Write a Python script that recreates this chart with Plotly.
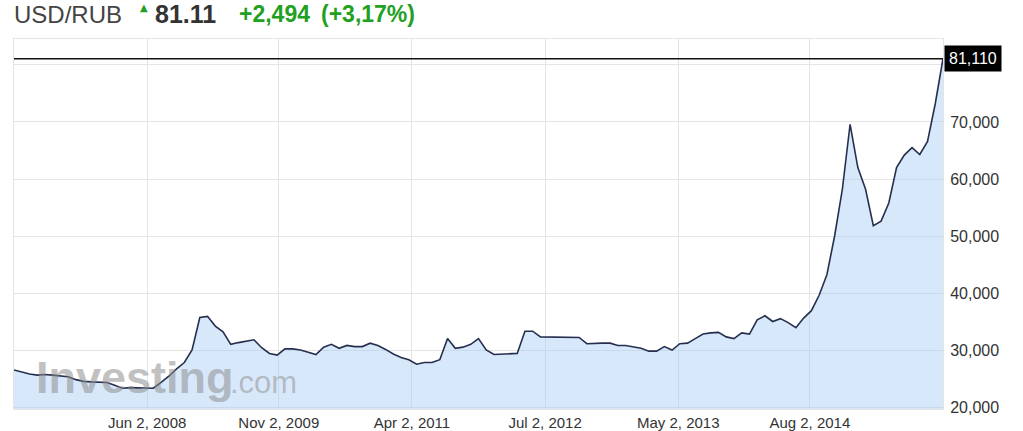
import plotly.graph_objects as go

# ---- data ----
values = [
    26.5, 26.1, 25.8, 25.6, 25.7, 25.6, 25.5, 25.3, 24.8, 24.5,
    24.4, 24.4, 24.3, 23.8, 23.3, 23.4, 23.4, 23.3, 23.3, 24.3,
    25.4, 26.7, 27.8, 30.0, 35.7, 35.9, 34.2, 33.2, 31.0, 31.3,
    31.5, 31.8, 30.4, 29.4, 29.1, 30.2, 30.2, 30.0, 29.6, 29.2,
    30.5, 31.0, 30.3, 30.8, 30.6, 30.6, 31.2, 30.8, 30.1, 29.3,
    28.7, 28.3, 27.5, 27.8, 27.8, 28.3, 32.0, 30.3, 30.5, 31.0,
    32.0, 30.0, 29.2, 29.3, 29.3, 29.4, 33.3, 33.3, 32.3, 32.3,
    32.2, 32.2, 32.2, 32.2, 31.1, 31.2, 31.2, 31.2, 30.8, 30.8,
    30.5, 30.3, 29.8, 29.8, 30.6, 30.0, 31.1, 31.2, 32.0, 32.8,
    33.0, 33.1, 32.3, 32.0, 33.0, 32.8, 35.3, 36.0, 35.0, 35.5,
    34.8, 33.9, 35.6, 36.9, 39.6, 43.2, 50.0, 58.2, 69.6, 62.0,
    58.2, 51.8, 52.6, 55.8, 62.0, 64.2, 65.5, 64.3, 66.6, 73.2,
    81.11,
]
values = [v * 1000 for v in values]
idx = list(range(len(values)))

x_tick_pos = [17.2, 34.2, 51.4, 68.6, 85.8, 102.8]
x_tick_labels = ["Jun 2, 2008", "Nov 2, 2009", "Apr 2, 2011",
                 "Jul 2, 2012", "May 2, 2013", "Aug 2, 2014"]
y_tick_vals = [20000, 30000, 40000, 50000, 60000, 70000, 80000]
y_tick_text = ["20,000", "30,000", "40,000", "50,000", "60,000", "70,000", ""]

symbol = "USD/RUB"
last_price = "81.11"
change = "+2,494"
change_pct = "(+3,17%)"
current_value = 81110
current_label = "81,110"

GREEN = "#22a022"
FONT = "Liberation Sans, Arial, sans-serif"

# plot area target in window px: x 14..943, y 39..409
PL, PR, PT, PB = 14, 943, 39, 409
W, H = 1023, 431

def px_to_paper(px, py):
    return (px - PL) / float(PR - PL), (PB - py) / float(PB - PT)

fig = go.Figure()
fig.add_trace(go.Scatter(
    x=idx, y=values, mode="lines",
    line=dict(color="#262f4d", width=1.6),
    fill="tozeroy", fillcolor="rgba(168,204,246,0.45)",
    hoverinfo="skip",
))

# current price line
fig.add_shape(type="line", xref="paper", x0=0, x1=1, yref="y",
              y0=current_value, y1=current_value,
              line=dict(color="#111111", width=1.5), layer="above")

header = [
    dict(text=symbol, x=12, y=14, font=dict(size=24, color="#444444")),
    dict(text="▲", x=138, y=7, font=dict(size=10, color=GREEN, family="DejaVu Sans")),
    dict(text="<b>" + last_price + "</b>", x=153, y=14, font=dict(size=25, color="#333333")),
    dict(text="<b>" + change + "</b>", x=237, y=14, font=dict(size=23, color=GREEN)),
    dict(text="<b>" + change_pct + "</b>", x=319, y=14, font=dict(size=23, color=GREEN)),
]
anns = []
for a in header:
    ax, ay = px_to_paper(a["x"], a["y"])
    f = dict(family=FONT)
    f.update(a["font"])
    anns.append(dict(
        text=a["text"], xref="paper", yref="paper", x=ax, y=ay,
        xanchor="left", yanchor="middle", showarrow=False, font=f,
    ))

# watermark
wx, wy = px_to_paper(34, 377)
anns.append(dict(text="<b>Investing</b>", xref="paper", yref="paper",
                 x=wx, y=wy, xanchor="left", yanchor="middle", showarrow=False,
                 font=dict(family=FONT, size=45, color="rgba(140,140,140,0.55)")))
cx, cy = px_to_paper(228, 382)
anns.append(dict(text=".com", xref="paper", yref="paper",
                 x=cx, y=cy, xanchor="left", yanchor="middle", showarrow=False,
                 font=dict(family=FONT, size=31, color="rgba(140,140,140,0.5)")))

# current value box
anns.append(dict(text=current_label, xref="paper", yref="y",
                 x=1, y=current_value, xanchor="left", yanchor="middle",
                 xshift=1, showarrow=False, bgcolor="#000000",
                 borderpad=4,
                 font=dict(family=FONT, size=16, color="#ffffff")))

fig.update_layout(
    width=W, height=H,
    margin=dict(l=PL, r=W - PR, t=PT, b=H - PB, autoexpand=False),
    paper_bgcolor="#ffffff", plot_bgcolor="#ffffff",
    showlegend=False,
    font=dict(family=FONT, size=16, color="#333333"),
    annotations=anns,
    xaxis=dict(
        range=[0, len(values) - 1],
        tickvals=x_tick_pos, ticktext=x_tick_labels,
        showgrid=True, gridcolor="#e4e4e4", gridwidth=1,
        ticks="", tickfont=dict(size=15, color="#333333"),
        showline=True, linecolor="#e4e4e4", mirror=True,
        zeroline=False, automargin=False, layer="above traces",
    ),
    yaxis=dict(
        side="right", range=[19650, 84560],
        tickvals=y_tick_vals, ticktext=y_tick_text,
        showgrid=True, gridcolor="#e4e4e4", gridwidth=1,
        tickfont=dict(size=16, color="#333333"),
        showline=True, linecolor="#e4e4e4", mirror=True,
        zeroline=False, ticks="outside", ticklen=3,
        tickcolor="rgba(0,0,0,0)", automargin=False,
    ),
)

fig.write_html("out.html", config={"displayModeBar": False},
               post_script="document.body.style.margin='0px';")
